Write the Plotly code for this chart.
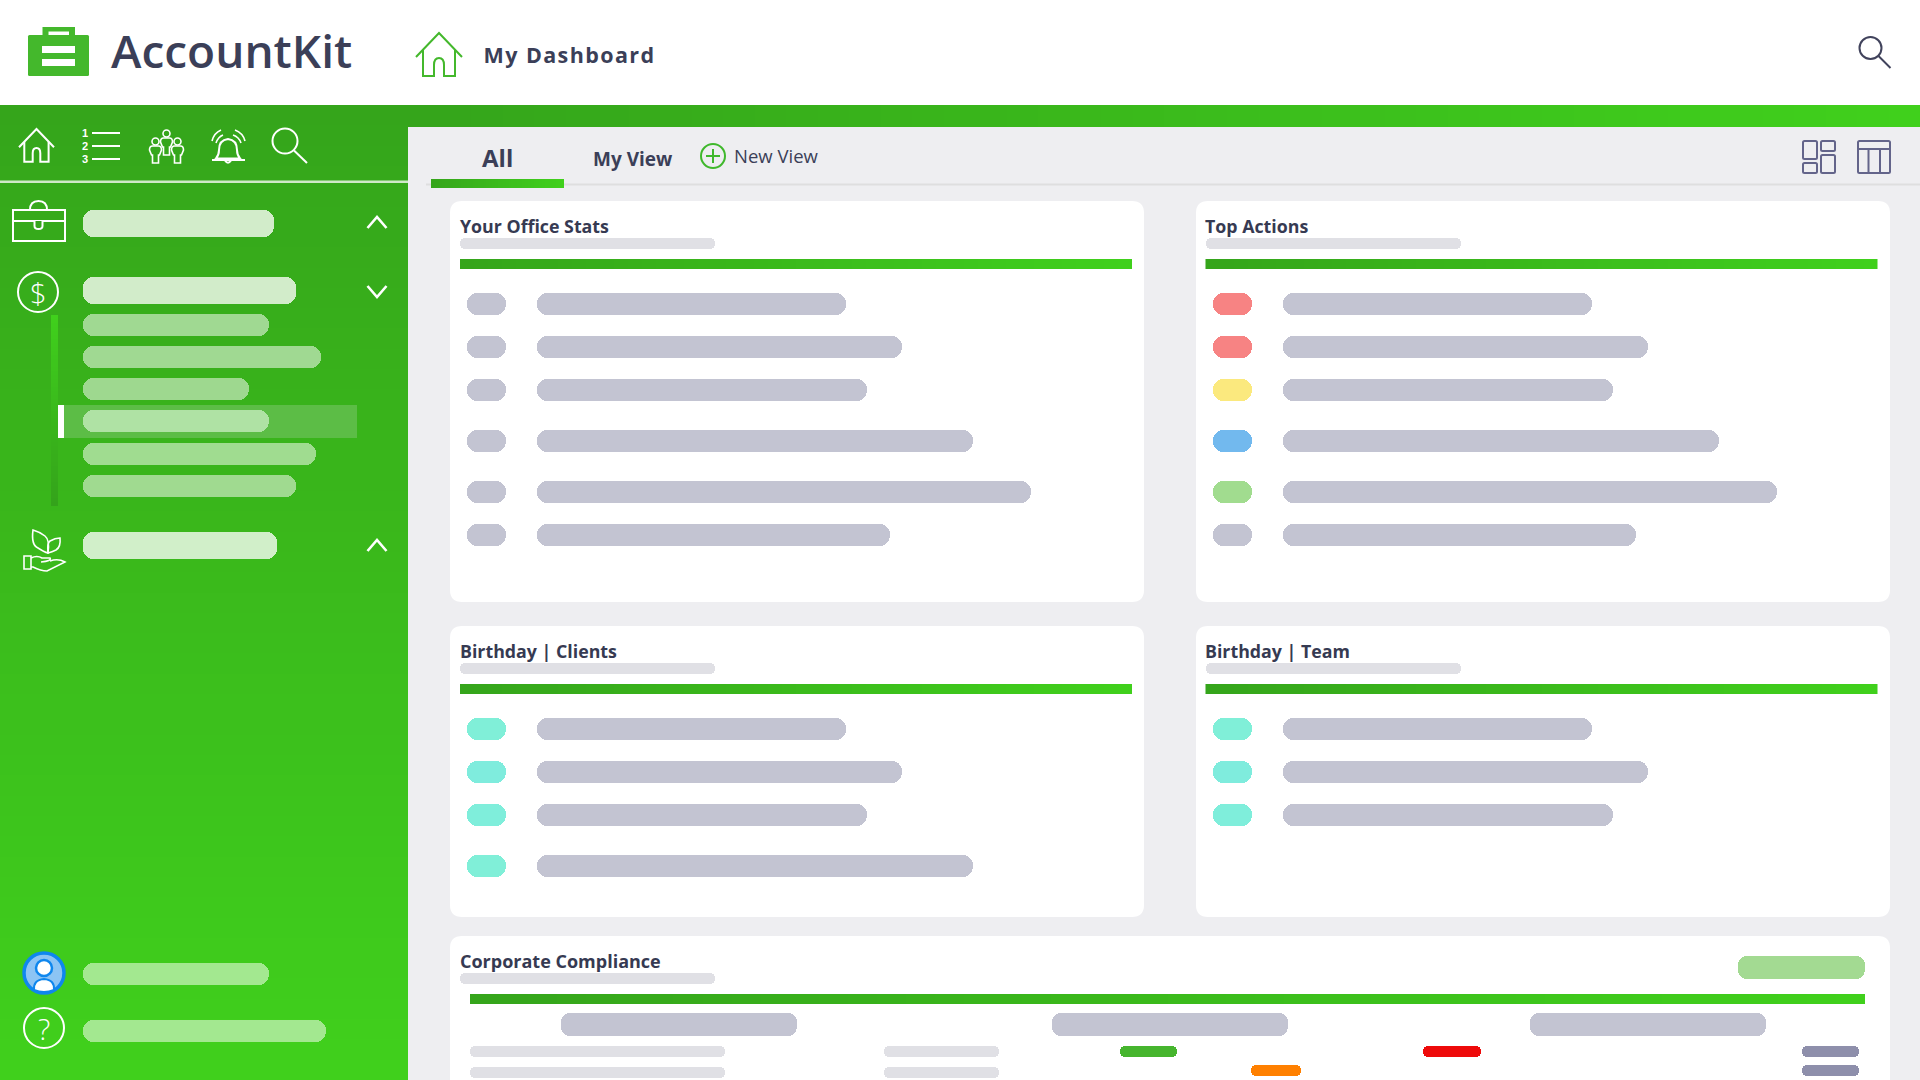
import numpy as np
import plotly.graph_objects as go

# placeholder bar lengths (px)
nav_main_lengths = [191, 213, 194]
nav_sub_lengths = [186, 238, 166, 186, 233, 213]
nav_footer_lengths = [186, 243]
row_pill_lengths = [39, 39, 39, 39, 39, 39]
office_lengths = [309, 365, 330, 436, 494, 353]
actions_lengths = [309, 365, 330, 436, 494, 353]
clients_lengths = [309, 365, 330, 436]
team_lengths = [309, 365, 330]
action_colors = ["#f78383", "#f78383", "#fbe97e", "#72b9ee", "#a1dc8f", "#c3c4d2"]
clients_colors = ["#80efd8", "#7fecdd", "#7feedb", "#80efd8"]
team_colors = ["#80efd8", "#7fecdd", "#7feedb"]
compliance_head_lengths = [236, 236, 236]
compliance_status = ["#46b52e", "#ee0a0a", "#ff8000"]

card_titles = ["Your Office Stats", "Top Actions", "Birthday | Clients", "Birthday | Team"]

INK = "#3b3f58"
GREY = "#c3c4d2"
PALE = "#e0e0e5"
DARK_G = "#35a51b"
LITE_G = "#40d01c"
ICON_G = "#44b82c"
FONT = "Open Sans"

fig = go.Figure()
shapes = []
notes = []


def gradient(x0, x1, y0, y1, c0, c1, vertical=False):
    n = 48
    if vertical:
        xs, ys = [x0, x1], np.linspace(y0, y1, n + 1)
        z = np.linspace(0, 1, n).reshape(-1, 1)
    else:
        xs, ys = np.linspace(x0, x1, n + 1), [y0, y1]
        z = np.linspace(0, 1, n).reshape(1, -1)
    fig.add_trace(go.Heatmap(x=xs, y=ys, z=z, zmin=0, zmax=1, showscale=False,
                             colorscale=[[0, c0], [1, c1]], hoverinfo="skip"))


def bars(starts, lengths, centers, thick, colors, radius):
    fig.add_trace(go.Bar(orientation="h", base=starts, x=lengths, y=centers, width=thick,
                         marker=dict(color=colors, cornerradius=radius, line_width=0),
                         hoverinfo="skip"))


def rounded(x0, y0, x1, y1, r):
    return (f"M{x0+r},{y0} H{x1-r} Q{x1},{y0} {x1},{y0+r} V{y1-r} Q{x1},{y1} {x1-r},{y1} "
            f"H{x0+r} Q{x0},{y1} {x0},{y1-r} V{y0+r} Q{x0},{y0} {x0+r},{y0} Z")


def box(x0, y0, x1, y1, color, layer="below"):
    shapes.append(dict(type="rect", x0=x0, y0=y0, x1=x1, y1=y1, fillcolor=color,
                       line_width=0, layer=layer))


def card(x0, y0, x1, y1):
    shapes.append(dict(type="path", path=rounded(x0, y0, x1, y1, 12), fillcolor="white",
                       line_width=0, layer="below"))


def stroke(path, color="white", w=2, fill=None):
    shapes.append(dict(type="path", path=path, line=dict(color=color, width=w),
                       fillcolor=fill or "rgba(0,0,0,0)", layer="above"))


def ring(cx, cy, r, color="white", w=2, fill=None):
    shapes.append(dict(type="circle", x0=cx-r, x1=cx+r, y0=cy-r, y1=cy+r,
                       line=dict(color=color, width=w),
                       fillcolor=fill or "rgba(0,0,0,0)", layer="above"))


def label(x, y, text, size, color=INK, weight=400, anchor="left", family=FONT):
    notes.append(dict(x=x, y=y, xref="x", yref="y", text=text, showarrow=False, xanchor=anchor,
                      yanchor="middle", align=anchor, borderpad=0,
                      font=dict(size=size, color=color, family=family, weight=weight)))


def home(x, y, s, color, w):
    # x, y is the left end of the eaves / top of the roof
    p = lambda a, b: f"{x+a*s:.1f},{y+b*s:.1f}"
    stroke(f"M{p(0,24)} L{p(23,0)} L{p(46,24)}", color, w)
    stroke(f"M{p(7,17)} V{y+43*s:.1f} H{x+18*s:.1f} V{y+32*s:.1f} Q{p(18,25)} {p(23,25)} "
           f"Q{p(28,25)} {p(28,32)} V{y+43*s:.1f} H{x+39*s:.1f} V{y+17*s:.1f}", color, w)


def person(cx, top, s=1.0):
    ring(cx, top + 3.5*s, 3.5*s, w=1.6)
    stroke(f"M{cx-3*s},{top+8*s} H{cx+3*s} Q{cx+6*s},{top+8*s} {cx+6*s},{top+12*s} "
           f"L{cx+4*s},{top+17*s} H{cx+3*s} V{top+25*s} H{cx-3*s} V{top+17*s} H{cx-4*s} "
           f"L{cx-6*s},{top+12*s} Q{cx-6*s},{top+8*s} {cx-3*s},{top+8*s} Z", w=1.6)


# page blocks
box(0, 0, 1920, 105, "white")
gradient(0, 408, 105, 1080, DARK_G, LITE_G, vertical=True)
gradient(408, 1920, 105, 127, DARK_G, LITE_G)
gradient(51, 58, 315, 506, LITE_G, "#34a31b", vertical=True)
box(0, 180.5, 408, 183, "#cfe9c8", "above")
box(426, 183.5, 1920, 185.5, "#dededf")
gradient(431, 564, 179, 188, DARK_G, LITE_G)

# cards
card_x = [450, 1196]
card_right = [1144, 1890]
for col in range(2):
    card(card_x[col], 201, card_right[col], 602)
    card(card_x[col], 626, card_right[col], 917)
card(450, 936, 1890, 1100)

row_offsets = [0, 43, 86, 137, 188, 231]
panels = [
    (0, 201, office_lengths, [GREY] * 6),
    (1, 201, actions_lengths, action_colors),
    (0, 626, clients_lengths, clients_colors),
    (1, 626, team_lengths, team_colors),
]
for i, (col, top, lengths, colors) in enumerate(panels):
    left = card_x[col] + 10
    label(left - 1 - col, top + 24.5, card_titles[i], 17.8, "#363a52", 700)
    gradient(left - 0.5 * col, left + 672 - 0.5 * col, top + 58, top + 68, DARK_G, LITE_G)
    centers = [top + 103 + off for off in row_offsets[:len(lengths)]]
    bars([left - 0.5 * col], [255], [top + 42.5], 11, [PALE], 5.5)
    bars([left + 7 - 0.5 * col] * len(lengths), row_pill_lengths[:len(lengths)], centers, 22, colors, 10)
    bars([left + 77] * len(lengths), lengths, centers, 22, [GREY] * len(lengths), 10)

# corporate compliance card
label(459, 961, "Corporate Compliance", 18, "#363a52", 700)
bars([460], [255], [978.5], 11, [PALE], 5.5)
bars([1738], [127], [967.5], 23, ["#a3da92"], 9)
gradient(470, 1865, 994, 1004, DARK_G, LITE_G)
bars([561, 1052, 1530], compliance_head_lengths, [1024.5] * 3, 23, [GREY] * 3, 9)
bars([470, 470, 884, 884], [255, 255, 115, 115], [1051.5, 1072, 1051.5, 1072], 11, [PALE] * 4, 5.5)
bars([1120, 1423, 1251], [57, 58, 50], [1051.5, 1051.5, 1070.5], 11, compliance_status, 5.5)
bars([1802, 1802], [57, 57], [1051.5, 1070.5], 11, ["#8e8fab"] * 2, 5.5)

# sidebar placeholders
bars([64], [293], [421.5], 33, ["#5cbd46"], 0)
bars([83] * 3, nav_main_lengths, [223.5, 290.5, 545.5], 27, ["#d2ecca", "#d2ecca", "#d1efc9"], 10)
bars([83] * 6, nav_sub_lengths, [325, 357, 389, 421, 454, 486], 22,
     ["#a0d992", "#a0d992", "#9ed88f", "#afe2a4", "#a0dc90", "#a0da90"], 10)
bars([83] * 2, nav_footer_lengths, [974, 1031], 22, ["#a3e890", "#a3e890"], 10)
box(58, 405, 64, 438, "white", "above")

# logo
shapes.append(dict(type="path", path=rounded(28, 35, 89, 76, 1.5), fillcolor=ICON_G, line_width=0, layer="above"))
shapes.append(dict(type="path", path="M42.5,36 V27 H75 V36 H69 V31.5 H48.5 V36 Z", fillcolor=ICON_G, line_width=0, layer="above"))
box(42, 46, 75, 53, "white", "above")
box(42, 59, 75, 66, "white", "above")
label(110, 50, "AccountKit", 46, INK, 600)
home(416, 33, 1.0, ICON_G, 2)
label(569, 54.5, "My Dashboard", 21.5, INK, 700, "center")

# top search
ring(1870.5, 48, 11, "#41435c", 2)
stroke("M1878.5,56 L1890.5,68", "#41435c", 2)

# tabs
label(497, 157.5, "All", 24, INK, 700, "center")
label(592, 158.5, "My View", 19, INK, 700)
ring(713, 156, 12, "#3fb82c", 2)
stroke("M706,156 H720 M713,149 V163", "#3fb82c", 2)
label(732.5, 155.5, "New View", 18.5, INK, 400)

# layout switch icons
for x0, y0, x1, y1 in [(1803, 141, 1817, 159), (1821, 141, 1835, 151), (1803, 163, 1817, 173), (1821, 155, 1835, 173)]:
    stroke(rounded(x0, y0, x1, y1, 1.5), "#63648a", 2)
stroke(rounded(1858, 141, 1890, 173, 1.5), "#63648a", 2)
stroke("M1858,149 H1890 M1868.5,149 V173 M1880,149 V173", "#63648a", 2)

# sidebar top icons
home(19, 129, 0.76, "white", 2)
for i, y in enumerate([133, 146, 159]):
    label(84.5, y, str(i + 1), 11, "white", 700, "center", "Liberation Sans")
    stroke(f"M92,{y} H120", "white", 2)
person(155.5, 138, 1.0)
person(177.5, 138, 1.0)
person(166.5, 130, 1.0)
# bell
stroke("M228,139 Q219,140 219,150 Q219,155 216,158.5 H240 Q237,155 237,150 Q237,140 228,139 Z", w=2)
stroke("M212,160 H245", w=2)
stroke("M225,160.5 Q228,165 231,160.5", w=2)
stroke("M212,141 Q214,133 221,130 M216,143 Q218,137 223,135 M245,141 Q243,133 235,130 M241,143 Q239,137 233,135", w=1.6)
ring(285, 141, 12.5)
stroke("M294,150.5 L307,163")

# briefcase
stroke("M13,210 H65 V241 H13 Z M13,221 H65", w=2)
stroke("M30,210 Q30,201 38.5,201 Q47,201 47,210", w=2)
stroke("M34.5,221 V226 Q34.5,229 38.5,229 Q42.5,229 42.5,226 V221", w=2, fill=DARK_G)

# dollar
ring(38, 292, 20)
label(38, 292, "$", 29, "white", 300, "center")

# plant in a hand
stroke("M33,530 Q31,545 38,548 Q44,552 48,553 Q50,540 45,536 Q40,532 33,530 Z", w=1.6)
stroke("M48,553 Q47,543 50,541 Q55,538 60,538 Q61,547 56,550 Q52,552 48,553 Z", w=1.6)
stroke("M24,556 H31 V569 H24 Z", w=1.6)
stroke("M31,558 Q37,555 42,558 H50 Q52,561 41,562 M50,561 Q58,558 65,562 Q53,568 47,571 Q41,571 33,567 H31", w=1.6)

# chevrons
stroke("M367.5,228 L377,217 L386.5,228", w=2.6)
stroke("M367.5,286 L377,297 L386.5,286", w=2.6)
stroke("M367.5,551 L377,540 L386.5,551", w=2.6)

# bottom icons
ring(44, 973, 20, "#0f87ee", 3.5, "#8cc4f4")
ring(44, 968, 8, "#0f87ee", 2.5, "white")
stroke("M34,990 Q33,980 44,979 Q55,980 54,990 Q44,994 34,990 Z", "#0f87ee", 2, "white")
ring(44, 1028, 20)
label(44, 1028, "?", 29, "white", 300, "center")

fig.update_layout(
    width=1920, height=1080, margin=dict(l=0, r=0, t=0, b=0),
    paper_bgcolor="#eeeef1", plot_bgcolor="rgba(0,0,0,0)",
    barmode="overlay", bargap=0, showlegend=False,
    xaxis=dict(range=[0, 1920], visible=False, fixedrange=True),
    yaxis=dict(range=[1080, 0], visible=False, fixedrange=True),
    shapes=shapes, annotations=notes,
)

# plotly has no letter spacing, the heading in the reference is tracked out
spacing = """
document.body.style.margin='0';document.body.style.overflow='hidden';
document.querySelectorAll('.annotation-text').forEach(function (t) {
  if (t.textContent === 'My Dashboard') { t.style.letterSpacing = '1.4px'; }
});
"""
fig.write_html("out.html", config=dict(displayModeBar=False), post_script=spacing)
